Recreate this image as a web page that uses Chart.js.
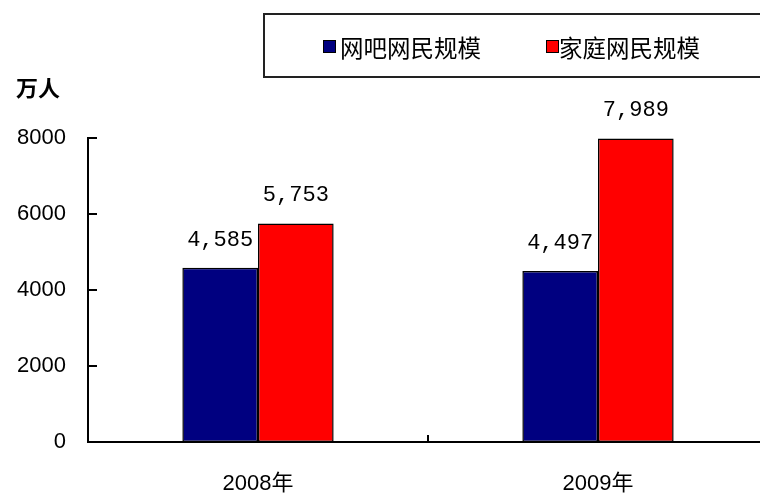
<!DOCTYPE html>
<html>
<head>
<meta charset="utf-8">
<script src="https://cdn.jsdelivr.net/npm/chart.js@4.4.1/dist/chart.umd.min.js"></script>
<style>
  html, body { margin:0; padding:0; background:#fff; overflow:hidden; }
  #wrap { width:780px; height:493px; position:relative; }
</style>
</head>
<body>
<div id="wrap"><canvas id="barChart" width="780" height="493"></canvas></div>
<script>
// data
const years = ['2008年', '2009年'];
const netBarUsers = [4585, 4497];     // 网吧网民规模
const homeUsers = [5753, 7989];       // 家庭网民规模
const seriesNames = ['网吧网民规模', '家庭网民规模'];
const yTicks = [0, 2000, 4000, 6000, 8000];
const unitLabel = '万人';

const colors = ['#000080', '#ff0000'];

// legend box, unit title, inward ticks, value labels
const decor = {
    id: 'decor',
    afterDraw(chart) {
        const c = chart.ctx;
        const area = chart.chartArea;
        const y = chart.scales.y;
        const x = chart.scales.x;
        c.save();

        // inward ticks on y axis
        c.strokeStyle = '#000';
        c.lineWidth = 2;
        yTicks.forEach(v => {
            const py = Math.round(y.getPixelForValue(v));
            c.beginPath();
            c.moveTo(area.left, py);
            c.lineTo(area.left + 9, py);
            c.stroke();
        });
        // tick between the two categories
        const mid = (x.getPixelForValue(0) + x.getPixelForValue(1)) / 2;
        c.beginPath();
        c.moveTo(mid, area.bottom);
        c.lineTo(mid, area.bottom - 7);
        c.stroke();

        // value labels above bars
        c.fillStyle = '#000';
        c.font = '22px "Liberation Mono", "DejaVu Sans Mono", monospace';
        c.textAlign = 'center';
        c.textBaseline = 'middle';
        chart.data.datasets.forEach((ds, i) => {
            chart.getDatasetMeta(i).data.forEach((bar, j) => {
                c.fillText(ds.data[j].toLocaleString('en-US'), bar.x, bar.y - 28);
            });
        });

        // unit title
        c.font = 'bold 22px "Noto Sans CJK SC", sans-serif';
        c.textAlign = 'left';
        c.fillText(unitLabel, 16, 88);

        // legend box
        c.lineWidth = 2;
        c.strokeStyle = '#222';
        c.strokeRect(264, 14, 540, 63);
        const items = [[323, 340], [546, 559]];
        c.font = '23.5px "Noto Sans CJK SC", sans-serif';
        chart.data.datasets.forEach((ds, i) => {
            c.fillStyle = ds.backgroundColor;
            c.fillRect(items[i][0], 40, 13, 13);
            c.lineWidth = 1;
            c.strokeStyle = '#000';
            c.strokeRect(items[i][0] + 0.5, 40.5, 12, 12);
            c.fillStyle = '#000';
            c.fillText(ds.label, items[i][1], 48);
        });
        c.restore();
    }
};

const ctx = document.getElementById('barChart').getContext('2d');
const myChart = new Chart(ctx, {
    type: 'bar',
    data: {
        labels: years,
        datasets: [
            { label: seriesNames[0], data: netBarUsers, backgroundColor: colors[0],
              borderColor: '#000', borderWidth: 1.5, borderSkipped: false },
            { label: seriesNames[1], data: homeUsers, backgroundColor: colors[1],
              borderColor: '#000', borderWidth: 1.5, borderSkipped: false }
        ]
    },
    options: {
        responsive: false,
        animation: false,
        layout: { padding: { top: 138, right: 12, left: 0, bottom: 0 } },
        categoryPercentage: 0.445,
        barPercentage: 1,
        plugins: {
            legend: { display: false },
            tooltip: { enabled: false }
        },
        scales: {
            x: {
                grid: { display: false, drawTicks: false },
                border: { display: true, color: '#000', width: 2 },
                ticks: {
                    color: '#000',
                    padding: 29,
                    font: { family: '"Liberation Sans", "Noto Sans CJK SC", sans-serif', size: 22 }
                },
                afterFit(scale) { scale.height = 51; }
            },
            y: {
                min: 0,
                max: 8000,
                afterBuildTicks(scale) { scale.ticks = yTicks.map(v => ({ value: v })); },
                grid: { display: false, drawTicks: false },
                border: { display: true, color: '#000', width: 2 },
                ticks: {
                    color: '#000',
                    padding: 22,
                    font: { family: '"Liberation Sans", sans-serif', size: 22 },
                    callback: v => String(v)
                },
                afterFit(scale) { scale.width = 88; }
            }
        }
    },
    plugins: [decor]
});
</script>
</body>
</html>
